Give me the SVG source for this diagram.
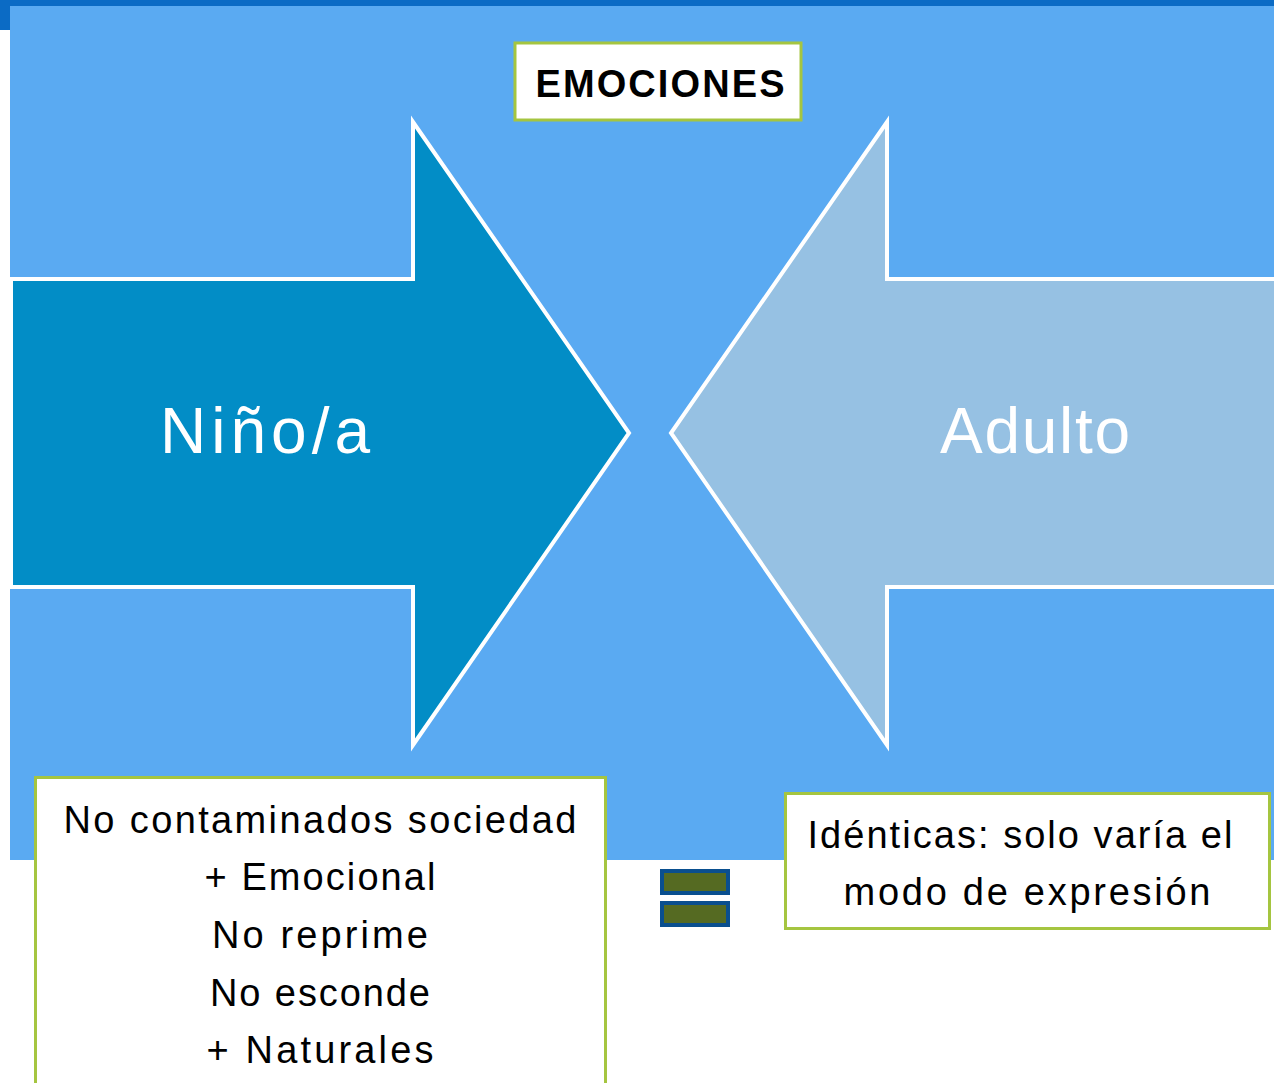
<svg xmlns="http://www.w3.org/2000/svg" width="1274" height="1083" viewBox="0 0 1274 1083">
<style>
.box{fill:#ffffff;stroke:#A5C540;stroke-width:3}
.t{font-family:"Liberation Sans","DejaVu Sans",sans-serif;fill:#000;text-anchor:middle;font-size:38px}
.big{font-family:"Liberation Sans","DejaVu Sans",sans-serif;fill:#fff;text-anchor:middle;font-size:64px}
.eq{fill:#556A22;stroke:#0A4F8F;stroke-width:4}
</style>
<rect x="0" y="0" width="1274" height="1083" fill="#ffffff"/>
<rect x="0" y="0" width="1274" height="6" fill="#0B6BC5"/>
<rect x="0" y="0" width="10" height="30" fill="#0B6BC5"/>
<rect x="10" y="6" width="1264" height="854" fill="#5AAAF2"/>
<g id="nino">
<polygon points="11,279 413,279 413,122 629,433 413,745 413,587 11,587" fill="#028DC6" stroke="#ffffff" stroke-width="4"/>
<text class="big" x="265" y="453" textLength="210" lengthAdjust="spacing">Niño/a</text>
</g>
<g id="adulto">
<polygon points="1290,279 887,279 887,122 671,433 887,745 887,587 1290,587" fill="#96C1E3" stroke="#ffffff" stroke-width="4"/>
<text class="big" x="1035" y="453" textLength="190" lengthAdjust="spacing">Adulto</text>
</g>
<g id="emociones">
<rect class="box" x="515" y="43" width="286" height="77"/>
<text class="t" x="660" y="97" font-weight="bold" font-size="40" textLength="249" lengthAdjust="spacing">EMOCIONES</text>
</g>
<g id="izq">
<rect class="box" x="35.5" y="777.5" width="570" height="320"/>
<text class="t" x="320" y="833" textLength="513" lengthAdjust="spacing">No contaminados sociedad</text>
<text class="t" x="320" y="890" textLength="231" lengthAdjust="spacing">+ Emocional</text>
<text class="t" x="320" y="948" textLength="216" lengthAdjust="spacing">No reprime</text>
<text class="t" x="320" y="1006" textLength="220" lengthAdjust="spacing">No esconde</text>
<text class="t" x="320" y="1063" textLength="227" lengthAdjust="spacing">+ Naturales</text>
</g>
<g id="der">
<rect class="box" x="785.5" y="793.5" width="484" height="135"/>
<text class="t" x="1020" y="848" textLength="425" lengthAdjust="spacing">Idénticas: solo varía el</text>
<text class="t" x="1027" y="905" textLength="367" lengthAdjust="spacing">modo de expresión</text>
</g>
<g id="igual">
<rect class="eq" x="662" y="871" width="66" height="22"/>
<rect class="eq" x="662" y="903" width="66" height="22"/>
</g>
<g id="connectors"/>
</svg>
